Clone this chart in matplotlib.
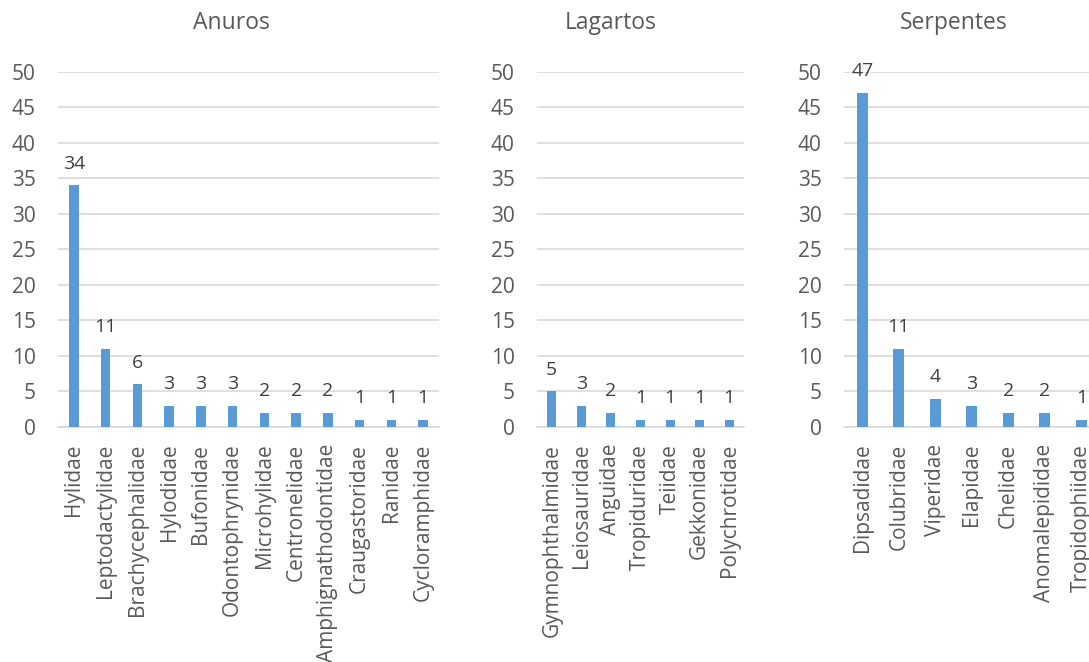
import matplotlib.pyplot as plt

plt.rcParams['font.family'] = ['Open Sans', 'DejaVu Sans']

anuros_names = ['Hylidae', 'Leptodactylidae', 'Brachycephalidae', 'Hylodidae',
                'Bufonidae', 'Odontophrynidae', 'Microhylidae', 'Centronelidae',
                'Amphignathodontidae', 'Craugastoridae', 'Ranidae', 'Cycloramphidae']
anuros_vals = [34, 11, 6, 3, 3, 3, 2, 2, 2, 1, 1, 1]

lagartos_names = ['Gymnophthalmidae', 'Leiosauridae', 'Anguidae', 'Tropiduridae',
                  'Teiidae', 'Gekkonidae', 'Polychrotidae']
lagartos_vals = [5, 3, 2, 1, 1, 1, 1]

serp_names = ['Dipsadidae', 'Colubridae', 'Viperidae', 'Elapidae', 'Chelidae',
              'Anomalepididae', 'Tropidophiidae']
serp_vals = [47, 11, 4, 3, 2, 2, 1]

yticks = [0, 5, 10, 15, 20, 25, 30, 35, 40, 45, 50]

bar_color = '#5b9bd5'
grid_color = '#d9d9d9'
text_color = '#595959'

W, H = 1089, 662
fig = plt.figure(figsize=(W / 100, H / 100), dpi=100)

# panel boxes in pixels: left, right, and title centre
panels = [
    ('Anuros', anuros_names, anuros_vals, 58, 439, 231),
    ('Lagartos', lagartos_names, lagartos_vals, 537, 744, 611),
    ('Serpentes', serp_names, serp_vals, 844, 1099.5, 954),
]
y_top, y_zero = 71.7, 427

for title, names, vals, x0, x1, tx in panels:
    ax = fig.add_axes([x0 / W, (H - y_zero) / H, (x1 - x0) / W, (y_zero - y_top) / H])
    pos = range(len(names))
    bars = ax.bar(pos, vals, width=0.3, color=bar_color, zorder=3)
    for b, v in zip(bars, vals):
        ax.annotate(str(v), (b.get_x() + b.get_width() / 2, v), xytext=(0, 12),
                    textcoords='offset points', ha='center', va='baseline',
                    fontsize=14, color='#404040', zorder=4)
    ax.set_xlim(-0.5, len(names) - 0.5)
    ax.set_ylim(0, 50)
    ax.set_yticks(yticks)
    ax.set_xticks(list(pos))
    ax.set_xticklabels(names, rotation=90)
    ax.tick_params(axis='both', length=0, labelsize=15, labelcolor=text_color)
    ax.tick_params(axis='y', pad=16)
    ax.tick_params(axis='x', pad=12)
    ax.grid(axis='y', color=grid_color, linewidth=1.2, zorder=0)
    for s in ['top', 'right', 'left']:
        ax.spines[s].set_visible(False)
    ax.spines['bottom'].set_color(grid_color)
    ax.spines['bottom'].set_linewidth(1.2)
    fig.text(tx / W, 1 - 23 / H, title, ha='center', va='center',
             fontsize=16.5, color=text_color)

fig.savefig('out.png', dpi=100)
